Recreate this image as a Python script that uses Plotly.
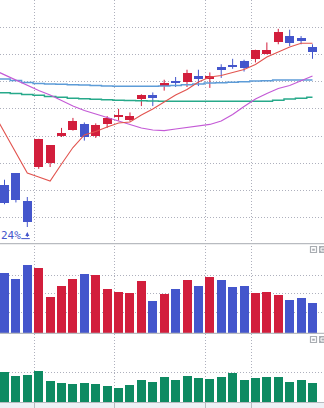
import plotly.graph_objects as go

# ---- daily prices (yen) ----
day = list(range(1, 29))
open_ = [626, 639, 609, 646, 650, 681, 687, 693, 680, 693, 701, 698, 721, 725,
         735, 741, 740, 746, 743, 756, 758, 763, 765, 770, 784, 790, 788, 778]
high = [632, 639, 613, 677, 670, 689, 700, 695, 694, 702, 710, 706, 726, 728,
        742, 745, 753, 753, 750, 759, 765, 764, 775, 783, 798, 797, 790, 781]
low = [605, 607, 580, 644, 646, 679, 686, 675, 678, 689, 697, 696, 713, 713,
       730, 734, 734, 735, 733, 744, 754, 751, 761, 770, 781, 779, 781, 765]
close = [606, 610, 586, 677, 670, 683, 697, 679, 692, 700, 703, 702, 725, 722,
         738, 738, 749, 743, 746, 753, 756, 755, 775, 775, 794, 782, 785, 772]

# moving averages (one extra session on the left edge)
ma_day = list(range(0, 29))
ma_short = [706.5, 684.5, 662.5, 639.4, 635.0, 630.6, 649.3, 667.4, 681.2, 685.0,
            690.0, 694.4, 695.5, 703.2, 709.8, 717.5, 725.2, 731.2, 739.5, 745.0,
            746.6, 749.9, 753.2, 758.7, 767.0, 772.5, 778.0, 782.1, 782.1]
ma_mid = [753.2, 747.2, 741.7, 735.6, 730.1, 725.2, 719.1, 713.1, 708.1, 704.3,
          700.4, 696.6, 692.2, 688.9, 686.7, 686.1, 687.8, 689.2, 690.6, 692.8,
          696.6, 703.8, 712.6, 720.8, 726.9, 732.4, 735.6, 741.2, 746.1]
ma_long = [744.7, 742.8, 741.2, 739.0, 737.9, 737.3, 737.0, 736.5, 736.2, 735.6,
           735.1, 734.8, 734.8, 734.8, 734.8, 735.1, 735.6, 736.4, 737.3, 738.4,
           738.7, 739.2, 739.8, 740.6, 740.9, 741.7, 741.7, 741.7, 741.7]
ma_xlong = [728.9, 727.7, 726.9, 725.8, 724.9, 723.6, 722.7, 721.6, 721.0, 720.6,
            720.0, 719.4, 719.2, 718.8, 718.6, 718.3, 718.3, 718.3, 718.3, 718.3,
            718.3, 718.3, 718.3, 718.3, 718.3, 719.4, 720.8, 721.6, 722.7]

# volume (thousand shares) and lower indicator
volume = [300, 270, 340, 325, 180, 235, 270, 295, 290, 220, 205, 200, 260, 160,
          195, 220, 265, 235, 280, 265, 230, 235, 200, 205, 190, 165, 175, 150]
indicator = [62, 54, 56, 64, 44, 40, 38, 40, 38, 34, 30, 36, 46, 42,
             52, 46, 54, 50, 48, 52, 60, 46, 50, 52, 52, 42, 46, 40]

low_label = "24%"

# ---- styling ----
UP, DOWN = "#d21e3c", "#4456cc"
GRID = "#aeb0bd"
SEP = "#b8bbc0"
W, H = 324, 408
PITCH = 11.407            # px per session
BODY_W = 9 / PITCH
x_left = 1 - 4.5 / PITCH
x_range = [x_left, x_left + W / PITCH]


def py(px):
    return 1 - px / H


def pxx(px):
    return px / W


price_range = [562.4, 829.7]
price_grid = list(range(590, 801, 30))
vol_range = [0, 450]
vol_grid = [104, 199, 289]
ind_range = [0, 137]
ind_grid = [60]
period_start = [4, 11, 19, 23]
vgrid = [d - 0.39 for d in period_start]

is_up = [c >= o for o, c in zip(open_, close)]
colors = [UP if u else DOWN for u in is_up]

fig = go.Figure()

# wicks
for flag, col in ((True, UP), (False, DOWN)):
    xs, ys = [], []
    for d, h, l, u in zip(day, high, low, is_up):
        if u == flag:
            xs += [d, d, None]
            ys += [l, h, None]
    fig.add_trace(go.Scatter(x=xs, y=ys, mode="lines", line=dict(color=col, width=1),
                             xaxis="x", yaxis="y", hoverinfo="skip"))

# bodies
fig.add_trace(go.Bar(x=day, y=[abs(c - o) for o, c in zip(open_, close)],
                     base=[min(o, c) for o, c in zip(open_, close)],
                     width=BODY_W, marker=dict(color=colors, line=dict(width=0)),
                     xaxis="x", yaxis="y"))

# moving averages
for vals, col, w, shape in ((ma_xlong, "#27a98a", 1.4, "hvh"),
                            (ma_long, "#5d9cd8", 1.4, "hvh"),
                            (ma_mid, "#c45ad6", 1.2, "linear"),
                            (ma_short, "#e2544f", 1.1, "linear")):
    fig.add_trace(go.Scatter(x=ma_day, y=vals, mode="lines",
                             line=dict(color=col, width=w, shape=shape),
                             xaxis="x", yaxis="y", hoverinfo="skip"))

# volume
fig.add_trace(go.Bar(x=day, y=volume, width=BODY_W,
                     marker=dict(color=colors, line=dict(width=0)),
                     xaxis="x2", yaxis="y2"))

# lower indicator
fig.add_trace(go.Bar(x=day, y=indicator, width=BODY_W,
                     marker=dict(color="#0e8a62", line=dict(width=0)),
                     xaxis="x3", yaxis="y3"))

common_x = dict(range=x_range, showticklabels=False, showgrid=True, tickvals=vgrid,
                gridcolor=GRID, griddash="1px,2px", gridwidth=1, zeroline=False,
                fixedrange=True)
common_y = dict(showticklabels=False, showgrid=True, gridcolor=GRID,
                griddash="1px,2px", gridwidth=1, zeroline=False, fixedrange=True,
                ticks="")

fig.update_layout(
    width=W, height=H, margin=dict(l=0, r=0, t=0, b=0),
    paper_bgcolor="white", plot_bgcolor="white", showlegend=False,
    bargap=0,
    xaxis=dict(common_x, anchor="y", domain=[0, 1], ticks=""),
    xaxis2=dict(common_x, anchor="y2", domain=[0, 1], matches="x", ticks=""),
    xaxis3=dict(common_x, anchor="y3", domain=[0, 1], matches="x",
                ticks="outside", ticklen=6, tickcolor=SEP, tickwidth=1,
                showline=True, linecolor=SEP, linewidth=1.4),
    yaxis=dict(common_y, domain=[py(243), 1], range=price_range, tickvals=price_grid),
    yaxis2=dict(common_y, domain=[py(333), py(243)], range=vol_range, tickvals=vol_grid),
    yaxis3=dict(common_y, domain=[py(402), py(333.5)], range=ind_range, tickvals=ind_grid),
)

shapes = [
    dict(type="rect", xref="paper", yref="paper", x0=0, x1=1, y0=0, y1=py(402),
         fillcolor="#eef1f6", line=dict(width=0), layer="below"),
    dict(type="line", xref="paper", yref="paper", x0=0, x1=1, y0=py(243.6), y1=py(243.6),
         line=dict(color=SEP, width=1.4)),
    dict(type="line", xref="paper", yref="paper", x0=0, x1=1, y0=py(333.4), y1=py(333.4),
         line=dict(color=SEP, width=1.4)),
]
# panel buttons (top right of the lower panels)
for top in (246.5, 336.5):
    shapes += [
        dict(type="rect", xref="paper", yref="paper", x0=pxx(310.5), x1=pxx(316.5),
             y0=py(top + 6), y1=py(top), line=dict(color="#a9adb2", width=1.2),
             fillcolor="white"),
        dict(type="rect", xref="paper", yref="paper", x0=pxx(312.2), x1=pxx(314.8),
             y0=py(top + 4.2), y1=py(top + 2.2), line=dict(width=0), fillcolor="#a9adb2"),
        dict(type="rect", xref="paper", yref="paper", x0=pxx(319), x1=pxx(327),
             y0=py(top + 6.5), y1=py(top - 0.5), line=dict(width=0), fillcolor="#a9adb2"),
        dict(type="rect", xref="paper", yref="paper", x0=pxx(321), x1=pxx(325),
             y0=py(top + 4.5), y1=py(top + 1.5), line=dict(color="white", width=1),
             fillcolor="#a9adb2"),
    ]
fig.update_layout(shapes=shapes)

# low-price marker under the lowest session
i_low = low.index(min(low))
lx, ly = day[i_low], low[i_low]
fig.add_annotation(x=lx, y=ly, xref="x", yref="y", text=" ", font=dict(size=1),
                   showarrow=True, ax=0, ay=12, standoff=5, arrowhead=2,
                   arrowsize=0.8, arrowwidth=1, arrowcolor=DOWN)
fig.add_annotation(x=lx, y=ly, xref="x", yref="y", text=" ", font=dict(size=1),
                   showarrow=True, ax=-10, ay=0, xshift=2.5, yshift=-11.6,
                   arrowhead=0, arrowwidth=1, arrowcolor=DOWN)
fig.add_annotation(x=0, y=ly, xref="paper", yref="y", text=low_label, showarrow=False,
                   xanchor="left", yanchor="middle", yshift=-8.4, borderpad=0,
                   font=dict(family="DejaVu Sans Mono", size=11, color=DOWN))

fig.write_html("out.html", config={"displayModeBar": False})
